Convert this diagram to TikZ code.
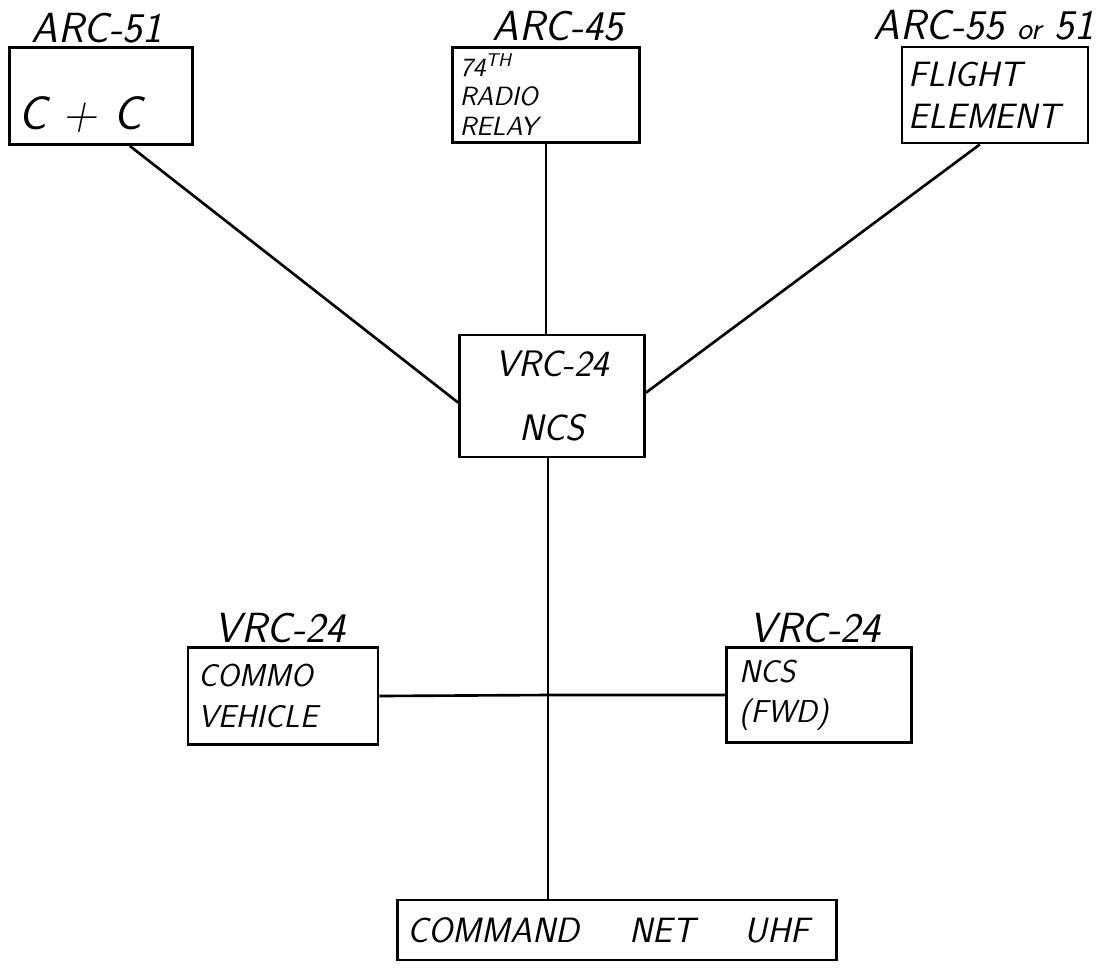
\documentclass[tikz,border=0pt]{standalone}
\usepackage{tikz}
\usetikzlibrary{positioning}

\tikzset{
  box/.style={draw, line width=1.6pt, inner sep=0pt, font=\sffamily\itshape},
  tag/.style={font=\fontsize{24}{28}\selectfont\sffamily\itshape, inner sep=0pt},
  wire/.style={line width=1.5pt}
}

\begin{document}
\begin{tikzpicture}[x=0.02cm, y=-0.02cm]

  \useasboundingbox (0,0) rectangle (1119,968);

  % top row
  \node[box, minimum width=3.66cm, minimum height=1.94cm, text width=3.3cm, align=left,
        font=\fontsize{27}{30}\selectfont\sffamily\itshape] (cc) at (101,96)
        {\raisebox{-19pt}[0pt][0pt]{C\,\,+\,\,C}};
  \node[box, minimum width=3.74cm, minimum height=1.9cm, text width=3.45cm, align=left,
        font=\fontsize{15}{17}\selectfont\sffamily\itshape] (relay) at (546,95)
        {74\textsuperscript{TH}\\RADIO\\RELAY};
  \node[box, minimum width=3.72cm, minimum height=1.92cm, text width=3.45cm, align=left,
        font=\fontsize{20}{24}\selectfont\sffamily\itshape] (flight) at (995,95)
        {FLIGHT\\ELEMENT};

  \node[tag] (cctag) at (97,28) {ARC-51};
  \node[tag] (relaytag) at (558,26) {ARC-45};
  \node[tag] (flighttag) at (984,25) {ARC-55 {\fontsize{18}{20}\selectfont or} 51};

  % net control station
  \node[box, minimum width=3.7cm, minimum height=2.44cm, align=center,
        font=\fontsize{21}{36}\selectfont\sffamily\itshape] (ncs) at (552,396)
        {VRC-24\\NCS};

  % lower row
  \node[box, minimum width=3.8cm, minimum height=1.94cm, text width=3.4cm, align=left,
        font=\fontsize{18}{23}\selectfont\sffamily\itshape] (commo) at (283,696)
        {COMMO\\VEHICLE};
  \node[box, minimum width=3.7cm, minimum height=1.9cm, text width=3.2cm, align=left,
        font=\fontsize{18}{23}\selectfont\sffamily\itshape] (fwd) at (819,695)
        {NCS\\(FWD)};

  \node[tag] (commotag) at (280,628) {VRC-24};
  \node[tag] (fwdtag) at (815,628) {VRC-24};

  \node[box, minimum width=8.78cm, minimum height=1.2cm, text width=8.4cm, align=left,
        font=\fontsize{20}{22}\selectfont\sffamily\itshape] (net) at (617,930)
        {COMMAND\hspace{1cm}NET\hspace{1cm}UHF};

  \coordinate (hub) at (548,695);

  % connectors
  \draw[wire] (cc.-60) -- (ncs.184);
  \draw[wire] (flight.253) -- (ncs.2);
  \draw[wire] (relay.south) -- (relay.south |- ncs.north);
  \draw[wire] (hub |- ncs.south) -- (hub |- net.north);
  \draw[wire] (commo.east) -- (hub) -- (fwd.west);

\end{tikzpicture}
\end{document}
